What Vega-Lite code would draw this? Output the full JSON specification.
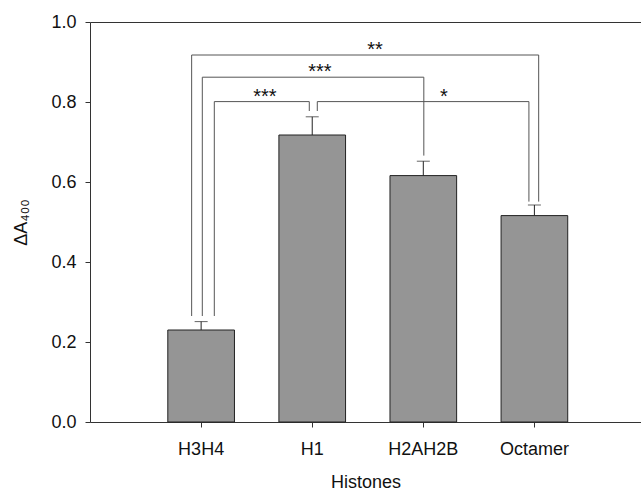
{
  "$schema": "https://vega.github.io/schema/vega-lite/v6.json",
  "width": 551,
  "height": 400,
  "autosize": "none",
  "padding": {"left": 90, "top": 22, "right": 0, "bottom": 70},
  "background": "white",
  "config": {
    "view": {"stroke": "#333", "strokeWidth": 1},
    "font": "Liberation Sans"
  },
  "datasets": {
    "bars": [
      {"histone": "H3H4", "mean": 0.23, "upper": 0.251},
      {"histone": "H1", "mean": 0.7175, "upper": 0.763},
      {"histone": "H2AH2B", "mean": 0.616, "upper": 0.652},
      {"histone": "Octamer", "mean": 0.516, "upper": 0.5425}
    ],
    "brackets": [
      {"bracket": "A", "step": 1, "x": 0.915, "y": 0.265},
      {"bracket": "A", "step": 2, "x": 0.915, "y": 0.9175},
      {"bracket": "A", "step": 3, "x": 4.039, "y": 0.9175},
      {"bracket": "A", "step": 4, "x": 4.039, "y": 0.551},
      {"bracket": "B", "step": 1, "x": 1.011, "y": 0.265},
      {"bracket": "B", "step": 2, "x": 1.011, "y": 0.862},
      {"bracket": "B", "step": 3, "x": 3.005, "y": 0.862},
      {"bracket": "B", "step": 4, "x": 3.005, "y": 0.666},
      {"bracket": "C", "step": 1, "x": 1.119, "y": 0.265},
      {"bracket": "C", "step": 2, "x": 1.119, "y": 0.801},
      {"bracket": "C", "step": 3, "x": 1.974, "y": 0.801},
      {"bracket": "C", "step": 4, "x": 1.974, "y": 0.7775},
      {"bracket": "D", "step": 1, "x": 2.046, "y": 0.7775},
      {"bracket": "D", "step": 2, "x": 2.046, "y": 0.801},
      {"bracket": "D", "step": 3, "x": 3.951, "y": 0.801},
      {"bracket": "D", "step": 4, "x": 3.951, "y": 0.551}
    ],
    "stars": [
      {"x": 2.565, "y": 0.9175, "label": "**"},
      {"x": 2.07, "y": 0.862, "label": "***"},
      {"x": 1.575, "y": 0.801, "label": "***"},
      {"x": 3.186, "y": 0.801, "label": "*"}
    ]
  },
  "layer": [
    {
      "data": {"name": "bars"},
      "encoding": {
        "x": {
          "field": "histone",
          "type": "nominal",
          "sort": null,
          "scale": {"paddingInner": 0.4, "paddingOuter": 0.68, "align": 0.515},
          "axis": {
            "title": "Histones",
            "labelAngle": 0,
            "domain": false,
            "tickSize": 5,
            "tickColor": "#333",
            "labelFontSize": 18,
            "labelColor": "#111",
            "labelPadding": 13,
            "titleFontSize": 18,
            "titleFontWeight": "normal",
            "titleColor": "#111",
            "titlePadding": 15
          }
        }
      },
      "layer": [
        {
          "mark": {"type": "bar", "fill": "#959595", "stroke": "#222", "strokeWidth": 1},
          "encoding": {
            "y": {
              "field": "mean",
              "type": "quantitative",
              "scale": {"domain": [0, 1]},
              "axis": {
                "title": "ΔA₄₀₀",
                "values": [0, 0.2, 0.4, 0.6, 0.8, 1.0],
                "format": ".1f",
                "grid": false,
                "domain": false,
                "tickSize": 5,
                "tickColor": "#333",
                "labelFontSize": 18,
                "labelColor": "#111",
                "labelPadding": 9,
                "titleFontSize": 18,
                "titleFontWeight": "normal",
                "titleColor": "#111",
                "titlePadding": 20
              }
            }
          }
        },
        {
          "mark": {"type": "rule", "color": "#222", "strokeWidth": 1},
          "encoding": {
            "y": {"field": "mean", "type": "quantitative"},
            "y2": {"field": "upper"}
          }
        },
        {
          "mark": {"type": "tick", "color": "#222", "size": 13, "thickness": 1},
          "encoding": {
            "y": {"field": "upper", "type": "quantitative"}
          }
        }
      ]
    },
    {
      "layer": [
        {
          "data": {"name": "brackets"},
          "mark": {"type": "line", "color": "#555", "strokeWidth": 1},
          "encoding": {
            "x": {"field": "x", "type": "quantitative", "scale": {"domain": [0, 4.96]}, "axis": null},
            "y": {"field": "y", "type": "quantitative", "scale": {"domain": [0, 1]}},
            "detail": {"field": "bracket"},
            "order": {"field": "step"}
          }
        },
        {
          "data": {"name": "stars"},
          "mark": {"type": "text", "fontSize": 20, "baseline": "alphabetic", "align": "center", "dy": 1, "color": "#111"},
          "encoding": {
            "x": {"field": "x", "type": "quantitative", "scale": {"domain": [0, 4.96]}, "axis": null},
            "y": {"field": "y", "type": "quantitative"},
            "text": {"field": "label"}
          }
        }
      ]
    }
  ],
  "resolve": {"scale": {"x": "independent"}}
}
